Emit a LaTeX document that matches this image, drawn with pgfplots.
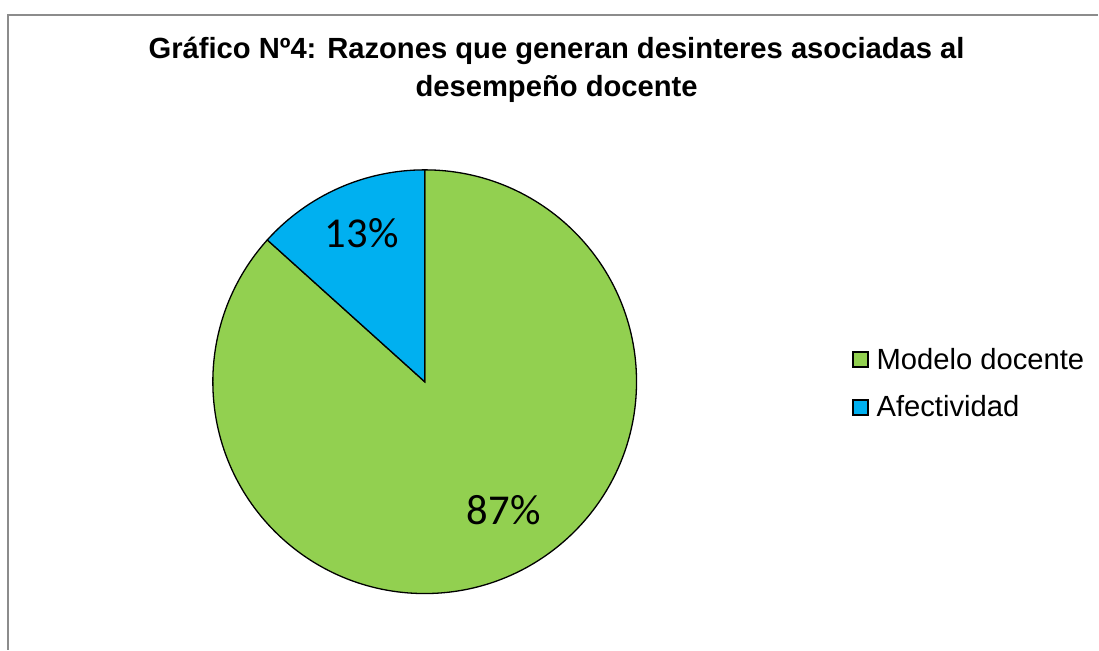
\documentclass[border=0pt]{standalone}
\usepackage{fontspec}
\setmainfont{Liberation Sans}
\newfontfamily\calibri{Carlito}
\usepackage{pgfplots}
\usepackage{pgfplotstable}
\pgfplotsset{compat=1.18}
\definecolor{mygreen}{HTML}{92D050}
\definecolor{myblue}{HTML}{00B0F0}
\definecolor{framegray}{HTML}{8C8C8C}
\pgfplotstableread{
value
86.67
13.33
}\piedata
\pgfplotstablegetelem{0}{value}\of\piedata \let\va\pgfplotsretval
\pgfplotstablegetelem{1}{value}\of\piedata \let\vb\pgfplotsretval
\pgfmathsetmacro\angA{\va/(\va+\vb)*360}
\begin{document}
\begin{tikzpicture}
\begin{axis}[
  scale only axis, width=549.5pt, height=325pt,
  xmin=0, xmax=1099, ymin=0, ymax=650,
  axis lines=none, clip=false,
  legend cell align=left,
  legend image code/.code={\draw[#1,draw=black,line width=0.6pt] (0pt,-3pt) rectangle (7.5pt,4.5pt);},
  legend style={draw=none, fill=none, inner sep=0pt, outer sep=0pt,
    font=\fontsize{14.6}{17}\selectfont,
    nodes={text height=11pt, text depth=3pt, inner sep=0pt},
    row sep=10pt, column sep=4pt,
    at={(0.7762,0.4657)}, anchor=north west},
]
\path (axis cs:0,0) rectangle (axis cs:1099,650);
\draw[framegray, line width=0.8pt] (axis cs:8,0) -- (axis cs:8,635) -- (axis cs:1099,635);
\filldraw[fill=mygreen, draw=black, line width=0.65pt] (axis cs:425,268) -- ++(90:106pt) arc[start angle=90, end angle={90-\angA}, radius=106pt] -- cycle;
\filldraw[fill=myblue, draw=black, line width=0.65pt] (axis cs:425,268) -- ++({90-\angA}:106pt) arc[start angle={90-\angA}, end angle=-270, radius=106pt] -- cycle;
\addlegendimage{fill=mygreen}
\addlegendentry{Modelo docente}
\addlegendimage{fill=myblue}
\addlegendentry{Afectividad}
\node[anchor=base, font=\calibri\fontsize{21.3}{25}\selectfont, inner sep=0pt] at (axis cs:362,402) {13\%};
\node[anchor=base, font=\calibri\fontsize{21.3}{25}\selectfont, inner sep=0pt] at (axis cs:504,125) {87\%};
\node[anchor=base, font=\bfseries\fontsize{14.6}{17}\selectfont, inner sep=0pt] at (axis cs:557,591) {Gráfico Nº4: Razones que generan desinteres asociadas al};
\node[anchor=base, font=\bfseries\fontsize{14.6}{17}\selectfont, inner sep=0pt] at (axis cs:557,553) {desempeño docente};
\end{axis}
\end{tikzpicture}
\end{document}
